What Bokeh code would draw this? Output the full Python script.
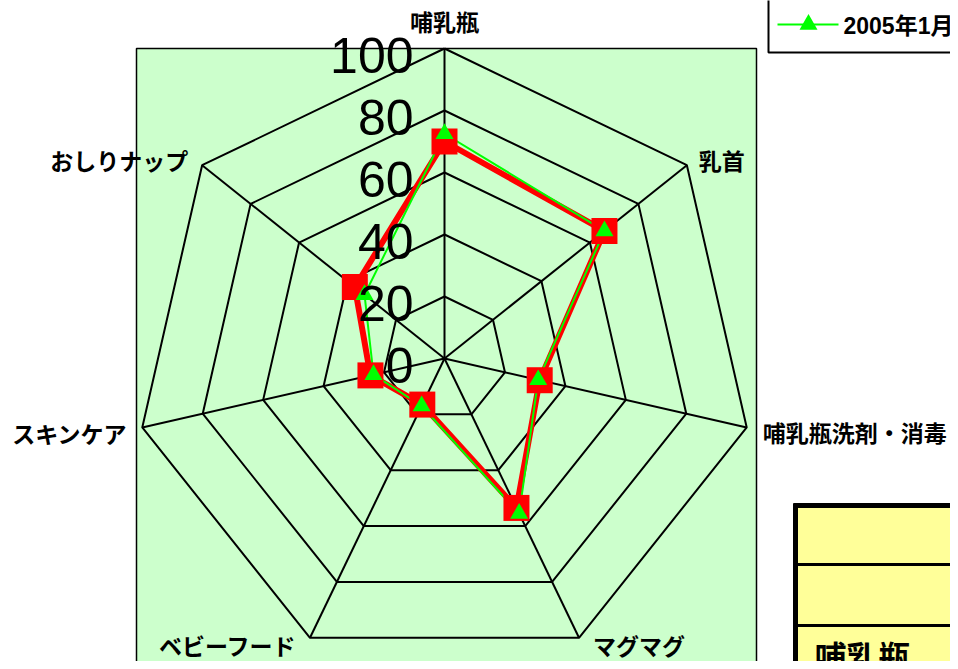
import numpy as np
from bokeh.plotting import figure
from bokeh.models import Range1d
from bokeh.core.properties import value
from bokeh.embed import file_html
from bokeh.resources import INLINE

# ---- data ----
categories = ["哺乳瓶", "乳首", "哺乳瓶洗剤・消毒", "マグマグ", "ベビーフード", "スキンケア", "おしりナップ"]
series_red = [70, 66, 31.5, 53.5, 16.5, 24.5, 37]
series_green = [72.5, 66, 31, 55.5, 17, 23.5, 33]
green_name = "2005年1月"
ring_levels = [20, 40, 60, 80, 100]
tick_values = [0, 20, 40, 60, 80, 100]
tick_labels = ["0", "20", "40", "60", "80", "100"]
table_label = "哺乳瓶"

# ---- layout ----
W, H = 950, 661
OFF = 0
CX, CY = 444, 358   # px of radar centre
S = 3.1             # px per value unit
RMAX = 100


def X(px):
    return (px - CX) / S


def Y(py):
    return (CY - py) / S


p = figure(width=W, height=H, output_backend="svg", toolbar_location=None,
           x_range=Range1d(X(OFF), X(OFF + W)), y_range=Range1d(Y(OFF + H), Y(OFF)),
           min_border=0, outline_line_color=None, background_fill_color="white",
           border_fill_color="white")
p.axis.visible = False
p.grid.visible = False

n = len(categories)
theta = np.arange(n) * 2 * np.pi / n
sx, sy = np.sin(theta), np.cos(theta)

# plot area background
p.quad(left=[X(136)], right=[X(756)], top=[Y(48)], bottom=[Y(720)],
       fill_color="#CCFFCC", line_color="black", line_width=1.5)

# rings
for lv in ring_levels:
    xs = list(lv * sx) + [lv * sx[0]]
    ys = list(lv * sy) + [lv * sy[0]]
    p.line(xs, ys, line_color="black", line_width=2)
# spokes
p.segment(x0=[0] * n, y0=[0] * n, x1=list(RMAX * sx), y1=list(RMAX * sy),
          line_color="black", line_width=2)

# red series
rv = np.array(series_red)
rx, ry = rv * sx, rv * sy
p.line(list(rx) + [rx[0]], list(ry) + [ry[0]], line_color="#FF0000", line_width=6,
       line_join="round")
# green series line
gv = np.array(series_green)
gx, gy = gv * sx, gv * sy
p.line(list(gx) + [gx[0]], list(gy) + [gy[0]], line_color="#00FF00", line_width=2,
       line_join="round")
p.scatter(list(rx), list(ry), marker="square", size=26, fill_color="#FF0000", line_color=None)
p.scatter(list(gx), list(gy), marker="triangle", size=18, fill_color="#00FF00", line_color=None)

# tick labels
p.text(x=[X(413)] * len(tick_values), y=[v - 7 / S for v in tick_values], text=tick_labels,
       text_font=value("Liberation Sans"), text_font_size="50px", text_align="right",
       text_baseline="middle", text_color="black")

# category labels
offsets = [(0, -28, "center"), (12, -5, "left"), (16, 5, "left"), (14, 7, "left"),
           (-13, 7, "right"), (-15, 6, "right"), (-14, -5, "right")]
cat_font = value("'Noto Sans CJK JP', sans-serif")
for i, (ox, oy, al) in enumerate(offsets):
    p.text(x=[RMAX * sx[i] + ox / S], y=[RMAX * sy[i] - oy / S], text=[categories[i]],
           text_font=cat_font, text_font_size="23px", text_font_style="bold",
           text_align=al, text_baseline="middle", text_color="black")

# legend box (partially visible)
p.quad(left=[X(768)], right=[X(1100)], top=[Y(-20)], bottom=[Y(52)],
       fill_color="white", line_color="black", line_width=2)
p.line([X(777), X(838)], [Y(24), Y(24)], line_color="#00FF00", line_width=2)
p.scatter([X(808)], [Y(24)], marker="triangle", size=18, fill_color="#00FF00", line_color=None)
p.text(x=[X(843)], y=[Y(25)], text=[green_name],
       text_font=value("'Liberation Sans', 'Noto Sans CJK JP', sans-serif"),
       text_font_size="23px", text_font_style="bold", text_align="left",
       text_baseline="middle", text_color="black")

# data table (partially visible)
p.quad(left=[X(793)], right=[X(1100)], top=[Y(503)], bottom=[Y(760)],
       fill_color="#FFFF99", line_color=None)
p.line([X(795), X(795)], [Y(503), Y(760)], line_color="black", line_width=5)
p.line([X(793), X(1100)], [Y(505), Y(505)], line_color="black", line_width=5)
p.line([X(793), X(1100)], [Y(564), Y(564)], line_color="black", line_width=3)
p.line([X(793), X(1100)], [Y(625), Y(625)], line_color="black", line_width=3)
p.text(x=[X(814)], y=[Y(654)], text=[table_label], text_font=cat_font,
       text_font_size="32px", text_font_style="bold", text_align="left",
       text_baseline="middle", text_color="black")

open("out.html", "w").write(file_html(p, INLINE))
